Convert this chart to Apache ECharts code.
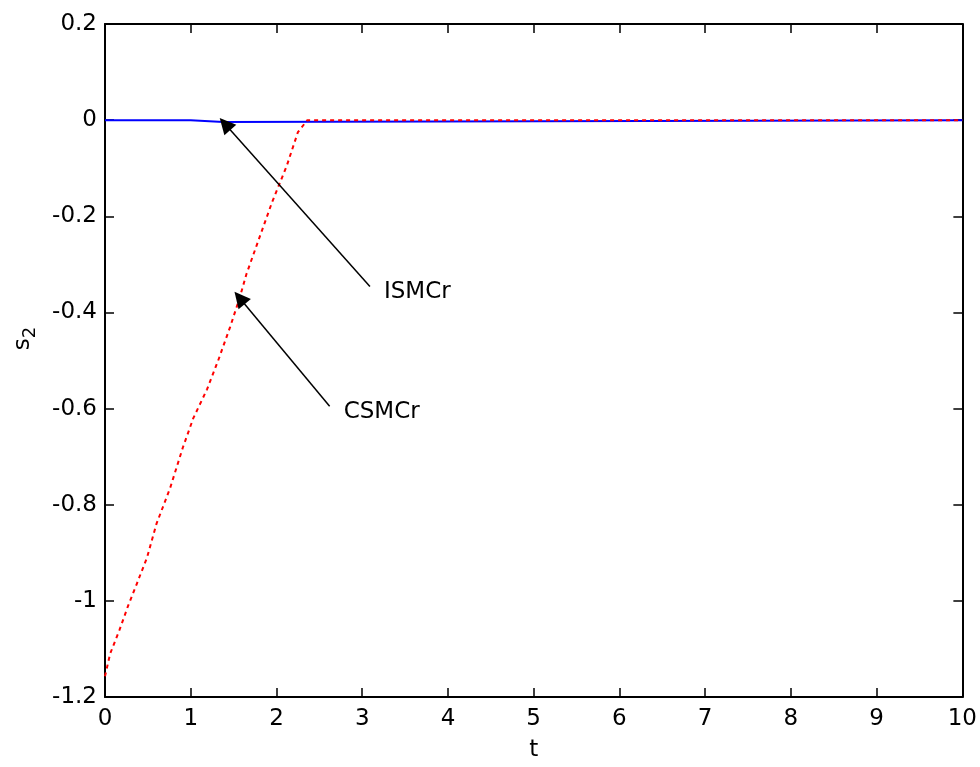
<!DOCTYPE html>
<html>
<head>
<meta charset="utf-8">
<title>s2 response</title>
<script src="https://cdn.jsdelivr.net/npm/echarts@6/dist/echarts.min.js"></script>
<style>
  html, body { margin: 0; padding: 0; background: #ffffff; }
  #chart { width: 980px; height: 767px; }
</style>
</head>
<body>
<div id="chart"></div>
<script>
// Sliding surface s2 over time for the two controllers
const xTicks = [0, 1, 2, 3, 4, 5, 6, 7, 8, 9, 10];
const yTicks = [-1.2, -1, -0.8, -0.6, -0.4, -0.2, 0, 0.2];

// ISMCr (solid blue), drawn as a step trace: each value holds until the next time
const ismcT = [0, 1.0, 1.38, 10];
const ismcS = [0, -0.004, 0, 0];

// CSMCr (dotted red)
const csmcT = [0, 0.06, 0.17, 0.27, 0.37, 0.49, 0.6, 0.76, 0.91, 1.03, 1.19, 1.32, 1.46, 1.57, 1.65, 1.77, 1.95, 2.12, 2.25, 2.36, 10];
const csmcS = [-1.157, -1.11, -1.06, -1.01, -0.965, -0.91, -0.84, -0.765, -0.68, -0.62, -0.56, -0.50, -0.43, -0.37, -0.32, -0.26, -0.17, -0.095, -0.025, 0, 0];

// Annotation arrows: tail (label side) and head points
const annotationNames = ['ISMCr', 'CSMCr'];
const arrowTail = [[3.09, -0.346], [2.62, -0.595]];
const arrowHead = [[1.40, -0.008], [1.57, -0.37]];

const zip = (a, b) => a.map((v, i) => [v, b[i]]);

const FONT = 'DejaVu Sans';
const axisColor = '#000000';

const chart = echarts.init(document.getElementById('chart'), null, { renderer: 'canvas' });

const baseX = {
  type: 'value', min: 0, max: 10, interval: 1,
  axisLine: { show: true, onZero: false, lineStyle: { color: axisColor, width: 2 } },
  axisTick: { show: true, inside: true, length: 9, lineStyle: { color: axisColor, width: 1.5 } },
  splitLine: { show: false }
};
const baseY = {
  type: 'value', min: -1.2, max: 0.2, interval: 0.2,
  axisLine: { show: true, onZero: false, lineStyle: { color: axisColor, width: 2 } },
  axisTick: { show: true, inside: true, length: 9, lineStyle: { color: axisColor, width: 1.5 } },
  splitLine: { show: false }
};

const option = {
  backgroundColor: '#ffffff',
  animation: false,
  grid: { left: 105, right: 17, top: 24, bottom: 66, containLabel: false },
  xAxis: [
    Object.assign({}, baseX, {
      position: 'bottom',
      name: 't', nameLocation: 'middle', nameGap: 42,
      nameTextStyle: { fontFamily: FONT, fontSize: 23, color: '#000' },
      axisLabel: {
        show: true, margin: 11, fontFamily: FONT, fontSize: 23, color: '#000',
        formatter: v => xTicks.includes(v) ? String(v) : ''
      }
    }),
    Object.assign({}, baseX, { position: 'top', axisLabel: { show: false } })
  ],
  yAxis: [
    Object.assign({}, baseY, {
      position: 'left',
      name: '{s|s}{sub|2}', nameLocation: 'middle', nameGap: 66, nameRotate: 90,
      nameTextStyle: {
        fontFamily: FONT, fontSize: 23, color: '#000',
        padding: [0, 0, 0, 44],
        rich: {
          s: { fontFamily: FONT, fontSize: 23, color: '#000' },
          sub: { fontFamily: FONT, fontSize: 18, color: '#000', padding: [14, 0, 0, 0] }
        }
      },
      axisLabel: {
        show: true, margin: 8, fontFamily: FONT, fontSize: 23, color: '#000',
        formatter: v => {
          const r = Math.round(v * 10) / 10;
          return yTicks.some(t => Math.abs(t - r) < 1e-9) ? String(r) : '';
        }
      }
    }),
    Object.assign({}, baseY, { position: 'right', axisLabel: { show: false } })
  ],
  series: [
    {
      name: 'ISMCr', type: 'line', xAxisIndex: 0, yAxisIndex: 0,
      data: zip(ismcT, ismcS), step: 'end', showSymbol: false, symbol: 'none',
      lineStyle: { color: '#0000ff', width: 2 }, z: 2
    },
    {
      name: 'CSMCr', type: 'line', xAxisIndex: 0, yAxisIndex: 0,
      data: zip(csmcT, csmcS), showSymbol: false, symbol: 'none', smooth: false,
      lineStyle: { color: '#ff0000', width: 2, type: [4, 4] }, z: 3
    },
    {
      name: 'arrows', type: 'lines', coordinateSystem: 'cartesian2d',
      xAxisIndex: 0, yAxisIndex: 0,
      symbol: ['none', 'triangle'], symbolSize: [0, 16],
      lineStyle: { color: '#000', width: 1.5, opacity: 1, curveness: 0 },
      data: annotationNames.map((n, i) => ({ coords: [arrowTail[i], arrowHead[i]] })),
      z: 4
    },
    {
      name: 'labels', type: 'scatter', xAxisIndex: 0, yAxisIndex: 0,
      symbolSize: 0, silent: true,
      data: annotationNames.map((n, i) => ({ name: n, value: arrowTail[i] })),
      label: {
        show: true, position: 'right', distance: 14, formatter: '{b}',
        fontFamily: FONT, fontSize: 23, color: '#000', opacity: 1,
        textBorderWidth: 0, offset: [0, 6]
      },
      z: 5
    }
  ]
};

chart.setOption(option);
</script>
</body>
</html>
